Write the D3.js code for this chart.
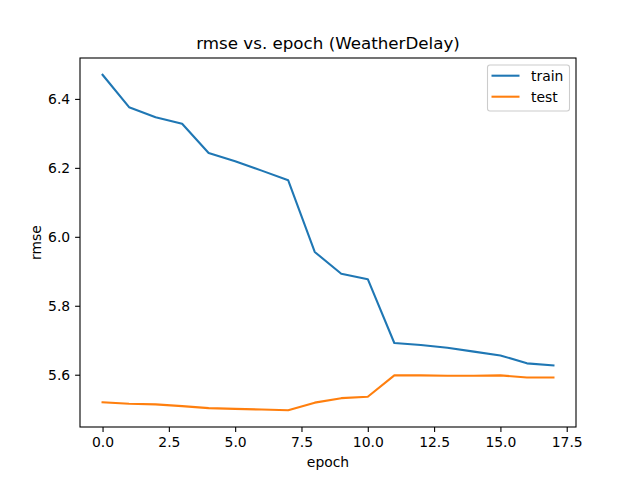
<!DOCTYPE html>
<html>
<head>
<meta charset="utf-8">
<script src="https://cdn.jsdelivr.net/npm/d3@7/dist/d3.min.js"></script>
<style>
  html, body { margin: 0; padding: 0; background: #fff; }
  svg { display: block; font-family: "DejaVu Sans", sans-serif; }
</style>
</head>
<body>
<svg id="chart" width="640" height="480"></svg>
<script>
// ---------- data ----------
var epochs = [0, 1, 2, 3, 4, 5, 6, 7, 8, 9, 10, 11, 12, 13, 14, 15, 16, 17];
var trainRmse = [6.470, 6.376, 6.347, 6.328, 6.243, 6.219, 6.192, 6.164, 5.956, 5.893, 5.877, 5.692, 5.686, 5.678, 5.667, 5.656, 5.633, 5.627];
var testRmse = [5.520, 5.516, 5.514, 5.509, 5.503, 5.501, 5.499, 5.497, 5.519, 5.532, 5.536, 5.598, 5.598, 5.597, 5.597, 5.598, 5.592, 5.592];
var xTicks = [0, 2.5, 5, 7.5, 10, 12.5, 15, 17.5];
var yTicks = [5.6, 5.8, 6.0, 6.2, 6.4];
var seriesNames = ["train", "test"];
var seriesColors = ["#1f77b4", "#ff7f0e"];

// ---------- layout ----------
var L = 80, R = 576, T = 58, B = 427;
var svg = d3.select("#chart");

// matplotlib-like 5% margins
var xMin = d3.min(epochs), xMax = d3.max(epochs), xPad = (xMax - xMin) * 0.05;
var allY = trainRmse.concat(testRmse);
var yMin = d3.min(allY), yMax = d3.max(allY), yPad = (yMax - yMin) * 0.05;
var x = d3.scaleLinear().domain([xMin - xPad, xMax + xPad]).range([L, R]);
var y = d3.scaleLinear().domain([yMin - yPad, yMax + yPad]).range([B, T]);

// ---------- lines ----------
var line = d3.line().x(function (d) { return x(d[0]); }).y(function (d) { return y(d[1]); });
[trainRmse, testRmse].forEach(function (vals, i) {
  svg.append("path")
    .datum(epochs.map(function (e, k) { return [e, vals[k]]; }))
    .attr("d", line).attr("fill", "none")
    .attr("stroke", seriesColors[i]).attr("stroke-width", 2.08)
    .attr("stroke-linejoin", "round").attr("stroke-linecap", "square");
});

// ---------- axes ----------
var xAxis = d3.axisBottom(x).tickValues(xTicks).tickSize(4.9).tickPadding(4.9)
  .tickFormat(function (d) { return d3.format(".1f")(d); });
var yAxis = d3.axisLeft(y).tickValues(yTicks).tickSize(4.9).tickPadding(4.9)
  .tickFormat(d3.format(".1f"));
function styleAxis(g) {
  g.select(".domain").remove();
  g.selectAll(".tick line").attr("stroke", "#000").attr("stroke-width", 1.1);
  g.selectAll(".tick text").attr("fill", "#000").attr("font-size", "13.9px")
    .attr("font-family", "DejaVu Sans, sans-serif");
}
svg.append("g").attr("transform", "translate(0," + B + ")").call(xAxis).call(styleAxis);
svg.append("g").attr("transform", "translate(" + L + ",0)").call(yAxis).call(styleAxis);

// frame
svg.append("rect").attr("x", L).attr("y", T).attr("width", R - L).attr("height", B - T)
  .attr("fill", "none").attr("stroke", "#000").attr("stroke-width", 1.1);

// ---------- text ----------
svg.append("text").attr("x", (L + R) / 2).attr("y", 49).attr("text-anchor", "middle")
  .attr("font-size", "16.7px").text("rmse vs. epoch (WeatherDelay)");
svg.append("text").attr("x", (L + R) / 2).attr("y", 467).attr("text-anchor", "middle")
  .attr("font-size", "13.9px").text("epoch");
svg.append("text").attr("transform", "translate(41," + ((T + B) / 2) + ") rotate(-90)")
  .attr("text-anchor", "middle").attr("font-size", "13.9px").text("rmse");

// ---------- legend ----------
var lg = svg.append("g");
lg.append("rect").attr("x", 487.5).attr("y", 65).attr("width", 82).attr("height", 46)
  .attr("rx", 2.5).attr("fill", "#fff").attr("fill-opacity", 0.8)
  .attr("stroke", "#cccccc").attr("stroke-width", 1.1);
seriesNames.forEach(function (name, i) {
  var yy = 75.7 + i * 21;
  lg.append("line").attr("x1", 491.5).attr("x2", 519.5).attr("y1", yy).attr("y2", yy)
    .attr("stroke", seriesColors[i]).attr("stroke-width", 2.08);
  lg.append("text").attr("x", 531).attr("y", yy + 5).attr("font-size", "13.9px").text(name);
});
</script>
</body>
</html>
